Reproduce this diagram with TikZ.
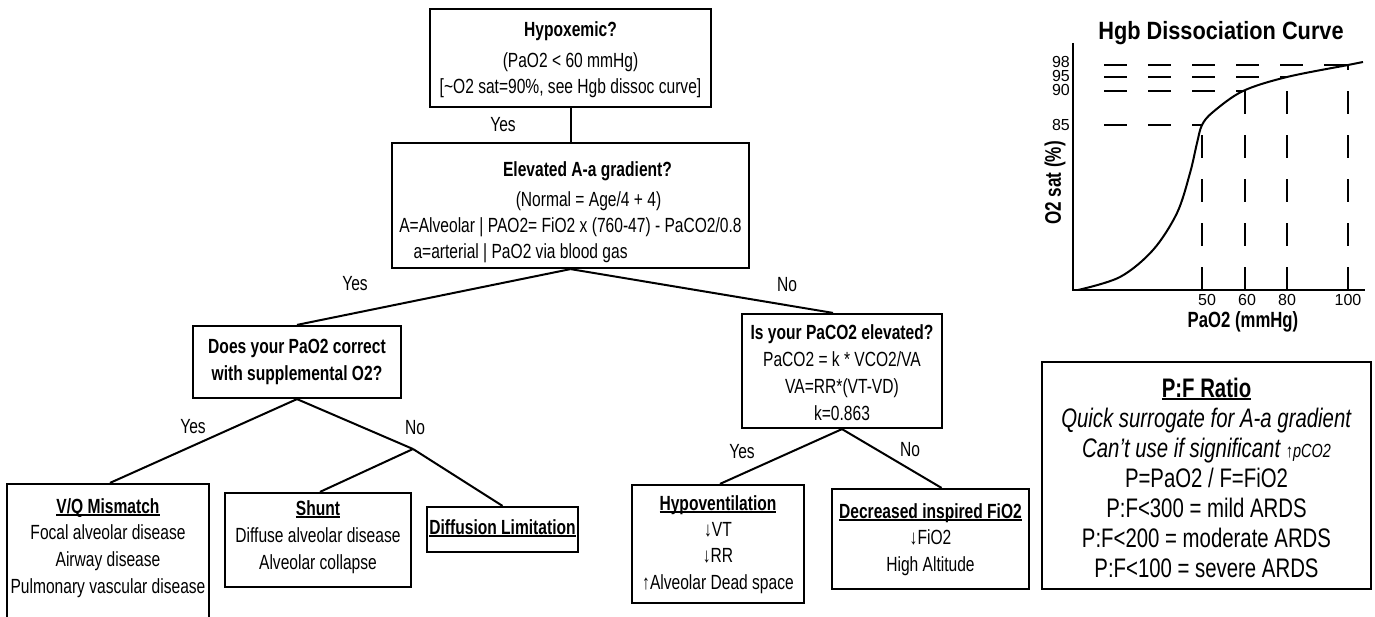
\documentclass[tikz,border=0pt]{standalone}
\usepackage{fontspec}
\setmainfont{Liberation Sans}[FakeStretch=0.76]
\newfontfamily\plainsans{Liberation Sans}
\newfontfamily\titlesans{Liberation Sans}[FakeStretch=0.87]
\newcommand\flowfont{\fontsize{20.5}{26}\selectfont}
\newcommand\pffont{\fontsize{26.8}{30}\selectfont}
\newcommand\undertext[1]{\setbox0\hbox{#1}\rlap{\rule[-2.6pt]{\wd0}{1.5pt}}\box0}
\begin{document}
\begin{tikzpicture}[x=1pt,y=-1pt,
  box/.style={draw, line width=2.2pt, inner sep=0pt},
  txt/.style={inner sep=0pt, align=center, font=\flowfont},
  lbl/.style={inner sep=0pt, font=\flowfont},
  link/.style={line width=2pt},
  guide/.style={line width=2pt, dash pattern=on 23pt off 21pt},
  tick/.style={inner sep=0pt, font=\plainsans\fontsize{16}{16}\selectfont},
]
\useasboundingbox (0,0) rectangle (1375,617);
\fill[white] (0,0) rectangle (1375,617);
\clip (0,0) rectangle (1375,617);

% ---------- decision boxes ----------
\node[box, minimum width=281, minimum height=98]  (hyp)   at (570.5,58)   {};
\node[box, minimum width=357, minimum height=125] (elev)  at (570.5,205.5) {};
\node[box, minimum width=208, minimum height=72]  (does)  at (297,362)    {};
\node[box, minimum width=200, minimum height=114] (isp)   at (842,371)    {};
\node[box, minimum width=202, minimum height=140] (vq)    at (108,554)    {};
\node[box, minimum width=186, minimum height=94]  (shunt) at (318,540)    {};
\node[box, minimum width=151, minimum height=45]  (diff)  at (502.5,529.5) {};
\node[box, minimum width=172, minimum height=118] (hypo)  at (718,544)    {};
\node[box, minimum width=197, minimum height=100] (dec)   at (930.5,539)  {};
\node[box, minimum width=329, minimum height=227] (pf)    at (1206.5,475.5) {};

% ---------- box texts ----------
\node[txt] (hypText) at (570.5,60) {\textbf{Hypoxemic?}\\[5pt]
  (PaO2 < 60 mmHg)\\
  {[}\textasciitilde O2 sat=90\%, see Hgb dissoc curve]};
\node[txt] (elevText) at (570.5,212.5) {\hspace*{34pt}\textbf{Elevated A-a gradient?}\\[4pt]
  \hspace*{36pt}(Normal = Age/4 + 4)\\
  A=Alveolar | PAO2= FiO2 x (760-47) - PaCO2/0.8\\
  \makebox[330pt][l]{\hspace*{8pt}a=arterial | PaO2 via blood gas}};
\node[txt, font=\bfseries\fontsize{20.5}{27}\selectfont] (doesText) at (297,361.5)
  {Does your PaO2 correct\\ with supplemental O2?};
\node[txt, font=\fontsize{20.5}{27}\selectfont] (ispText) at (842,372.5)
  {\textbf{Is your PaCO2 elevated?}\\ PaCO2 = k * VCO2/VA\\ VA=RR*(VT-VD)\\ k=0.863};
\node[txt, font=\fontsize{20.5}{26.7}\selectfont] (vqText) at (108,548)
  {\textbf{\undertext{V/Q Mismatch}}\\ Focal alveolar disease\\ Airway disease\\ Pulmonary vascular disease};
\node[txt, font=\fontsize{20.5}{27}\selectfont] (shuntText) at (318,537)
  {\textbf{\undertext{Shunt}}\\ Diffuse alveolar disease\\ Alveolar collapse};
\node[txt] (diffText) at (502.5,528) {\textbf{\undertext{Diffusion Limitation}}};
\node[txt, font=\fontsize{20.5}{26.3}\selectfont] (hypoText) at (718,544.5)
  {\textbf{\undertext{Hypoventilation}}\\ ↓VT\\ ↓RR\\ ↑Alveolar Dead space};
\node[txt, font=\fontsize{20.5}{26.5}\selectfont] (decText) at (930.5,539.5)
  {\textbf{\undertext{Decreased inspired FiO2}}\\ ↓FiO2\\ High Altitude};
\node[txt, font=\pffont] (pfText) at (1206.5,477.5)
  {\textbf{\undertext{P:F Ratio}}\\
   \textit{Quick surrogate for A-a gradient}\\
   \textit{Can’t use if significant {\fontsize{19}{19}\selectfont ↑pCO2}}\\
   P=PaO2 / F=FiO2\\
   P:F<300 = mild ARDS\\
   P:F<200 = moderate ARDS\\
   P:F<100 = severe ARDS};

% ---------- connectors ----------
\coordinate (fork) at (413,449);
\draw[link] (hyp.south) -- (elev.north);
\draw[link] (elev.south) -- (does.north);
\draw[link] (elev.south) -- ([xshift=-9pt]isp.north);
\draw[link] (does.south) -- ([xshift=2pt]vq.north);
\draw[link] (does.south) -- (fork);
\draw[link] (fork) -- ([xshift=2pt]shunt.north);
\draw[link] (fork) -- (diff.north);
\draw[link] (isp.south) -- ([xshift=2pt]hypo.north);
\draw[link] (isp.south) -- ([xshift=11pt]dec.north);

% ---------- branch labels ----------
\node[lbl] (yes1) at (503,125) {Yes};
\node[lbl] (yes2) at (355,284) {Yes};
\node[lbl] (no2)  at (787,285) {No};
\node[lbl] (yes3) at (193,427) {Yes};
\node[lbl] (no3)  at (415,428) {No};
\node[lbl] (yes4) at (742,452) {Yes};
\node[lbl] (no4)  at (910,450) {No};

% ---------- haemoglobin dissociation curve ----------
\node[inner sep=0pt, font=\titlesans\bfseries\fontsize{25}{25}\selectfont] (hgbTitle) at (1221,33) {Hgb Dissociation Curve};
\draw[line width=2pt] (1073,43) -- (1073,290) -- (1365,290);
\draw[guide] (1104,65) -- (1348,65);
\draw[guide] (1104,77) -- (1287,77);
\draw[guide] (1104,91) -- (1245,91);
\draw[guide] (1104,125) -- (1202,125);
\draw[guide] (1202,290) -- (1202,125);
\draw[guide] (1245,290) -- (1245,91);
\draw[guide] (1287,290) -- (1287,77);
\draw[guide] (1348,290) -- (1348,65);
\draw[line width=2pt] plot[smooth, tension=0.55] coordinates {
  (1078,290) (1120,277) (1153,250) (1177,213) (1190,173) (1197,143)
  (1202,125) (1213,112) (1243,91) (1287,77) (1348,65) (1363,62)};
\node[tick, anchor=east] (t98) at (1070,62) {98};
\node[tick, anchor=east] (t95) at (1070,76) {95};
\node[tick, anchor=east] (t90) at (1070,90) {90};
\node[tick, anchor=east] (t85) at (1070,125) {85};
\node[tick] (t50)  at (1207,300) {50};
\node[tick] (t60)  at (1247,300) {60};
\node[tick] (t80)  at (1287,300) {80};
\node[tick] (t100) at (1348,300) {100};
\node[inner sep=0pt, font=\bfseries\fontsize{22}{22}\selectfont] (xlab) at (1243,322) {PaO2 (mmHg)};
\node[inner sep=0pt, rotate=90, font=\bfseries\fontsize{22.5}{22.5}\selectfont] (ylab) at (1055,183) {O2 sat (\%)};
\end{tikzpicture}
\end{document}
